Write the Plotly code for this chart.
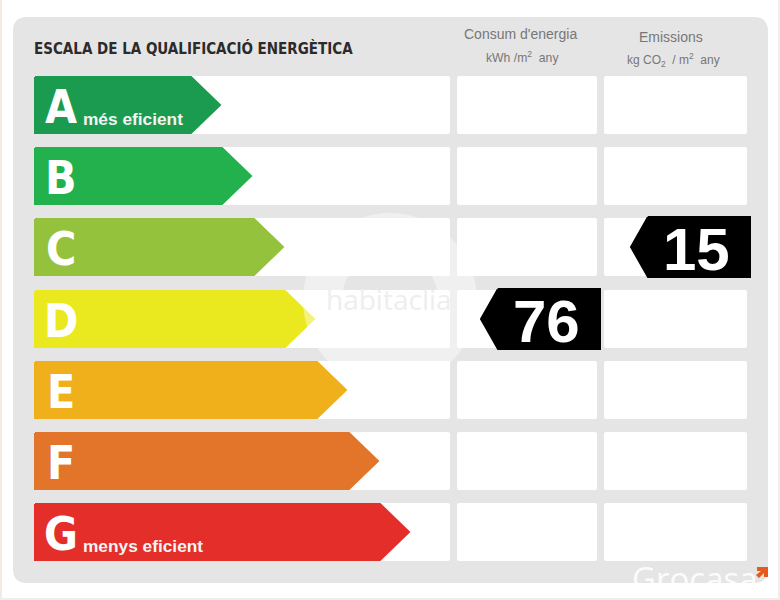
import math
import plotly.graph_objects as go

letters = ["A", "B", "C", "D", "E", "F", "G"]
colors = ["#1b9b4f", "#22b14c", "#95c23d", "#eae91f", "#efb01c", "#e2752a", "#e42e2a"]
tips = [221, 252, 284, 315, 347, 379, 410]
tops = [76, 147, 218, 290, 361, 432, 503]
captions = {"A": "més eficient", "G": "menys eficient"}
rowHeight = 58
grey = "#e5e5e5"
narrow = "'DejaVu Sans Condensed', 'Liberation Sans', sans-serif"
plain = "'Liberation Sans', sans-serif"

# values shown on the black tags: label, row, left end, right end
tags = [("76", 3, 480, 600), ("15", 2, 630, 750)]
columns = [(34, 450), (457, 597), (604, 747)]


def rounded(x0, y0, x1, y1, r):
  return (f"M{x0+r},{y0} L{x1-r},{y0} Q{x1},{y0} {x1},{y0+r} L{x1},{y1-r} Q{x1},{y1} {x1-r},{y1} "
          f"L{x0+r},{y1} Q{x0},{y1} {x0},{y1-r} L{x0},{y0+r} Q{x0},{y0} {x0+r},{y0} Z")


def circle(cx, cy, r, direction):
  points = []
  for a in range(0, 360, 5):
    angle = math.radians(a * direction)
    points.append(f"{cx + r * math.cos(angle):.1f},{cy + r * math.sin(angle):.1f}")
  return "M" + " L".join(points) + " Z"


shapes = []
shapes.append(dict(type="path", path=rounded(13, 17, 768, 583, 14), fillcolor=grey, line_width=0, layer="below"))
for top in tops:
  for left, right in columns:
    shapes.append(dict(type="path", path=rounded(left, top, right, top + rowHeight, 2),
                       fillcolor="white", line_width=0, layer="below"))
# page edges of the screenshot
shapes.append(dict(type="rect", x0=0, x1=2, y0=0, y1=600, fillcolor="#f3ebe3", line_width=0, layer="below"))
shapes.append(dict(type="rect", x0=778, x1=780, y0=0, y1=600, fillcolor="#eeeeee", line_width=0, layer="below"))
shapes.append(dict(type="rect", x0=0, x1=780, y0=598, y1=600, fillcolor="#eeeeee", line_width=0, layer="below"))
# faint watermark ring
shapes.append(dict(type="path", path=circle(390, 300, 87, 1) + " " + circle(390, 300, 48, -1),
                   fillcolor="rgba(255,255,255,0.42)", line_width=0, layer="above"))
# orange arrow of the corner logo
shapes.append(dict(type="path", path="M757,567 L768,567 L768,577 L764,577 L764,573 L759,578 L756,575 L761,571 L757,571 Z",
                   fillcolor="#e8591c", line_width=0, layer="above"))

fig = go.Figure()


def add_polygon(xs, ys, color):
  fig.add_trace(go.Scatter(x=xs, y=ys, mode="lines", fill="toself", fillcolor=color,
                           line=dict(color=color, width=2), hoverinfo="skip", showlegend=False))


for i in range(len(letters)):
  top = tops[i] + 1
  bottom = tops[i] + rowHeight - 1
  middle = (top + bottom) / 2
  tip = tips[i] - 1
  add_polygon([35, tip - 29, tip, tip - 29, 35, 35], [top, top, middle, bottom, bottom, top], colors[i])

for label, row, left, right in tags:
  top = tops[row] - 1
  bottom = tops[row] + rowHeight + 1
  add_polygon([left + 18, right, right, left + 18, left + 1, left + 18],
              [top, top, bottom, bottom, (top + bottom) / 2, top], "#000000")


def add_text(x, y, text, size, color, family=narrow, anchor="center"):
  fig.add_annotation(x=x, y=y, text=text, showarrow=False, xanchor=anchor, yanchor="middle",
                     font=dict(family=family, size=size, color=color))


for i in range(len(letters)):
  add_text(61, tops[i] + 31, f"<b>{letters[i]}</b>", 46, "white")
  if letters[i] in captions:
    add_text(81, tops[i] + 43, f"<b>{captions[letters[i]]}</b>", 17.3, "#f4f4f4", family=plain, anchor="left")

for label, row, left, right in tags:
  add_text(left + 66, tops[row] + 31, f"<b>{label}</b>", 60, "white", family=plain)

add_text(32, 48, "<b>ESCALA DE LA QUALIFICACIÓ ENERGÈTICA</b>", 15, "#2b2b2b", anchor="left")
add_text(520, 34, "Consum d'energia", 14, "#777777", family=plain)
add_text(522, 57, "kWh /m<sup>2</sup>  any", 12.2, "#777777", family=plain)
add_text(671, 37, "Emissions", 14, "#777777", family=plain)
add_text(673, 60, "kg CO<sub>2</sub>  / m<sup>2</sup>  any", 12, "#777777", family=plain)

add_text(389, 299, "habitaclia", 28, "#eeeeee", family="Open Sans")
add_text(695, 578, "Grocasa", 33, "rgba(255,255,255,0.9)", family="Open Sans")

fig.update_xaxes(range=[0, 780], visible=False, fixedrange=True)
fig.update_yaxes(range=[600, 0], visible=False, fixedrange=True)
fig.update_layout(width=780, height=600, margin=dict(l=0, r=0, t=0, b=0),
                  paper_bgcolor="white", plot_bgcolor="white", shapes=shapes)

fig.write_html("out.html", config=dict(displayModeBar=False),
               post_script="document.body.style.margin='0';document.body.style.overflow='hidden';")
